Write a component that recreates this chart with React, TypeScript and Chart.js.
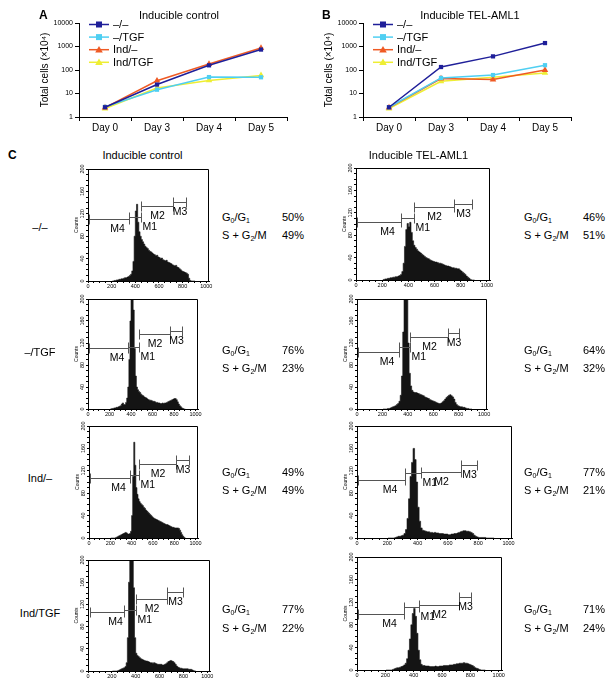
import React, { useEffect, useRef } from 'react';
import { Chart, registerables } from 'chart.js';
Chart.register(...registerables);

const FONT = '"Liberation Sans", Arial, Helvetica, sans-serif';

// ---------- Panels A / B : growth curves ----------
const days = ['Day 0', 'Day 3', 'Day 4', 'Day 5'];
const seriesNames = ['–/–', '–/TGF', 'Ind/–', 'Ind/TGF'];
const seriesColors = ['#1f1f99', '#4fcff2', '#ef5a24', '#eeee33'];
const seriesMarkers = ['rect', 'rect', 'triangle', 'triangle'];
const logTicks = [1, 10, 100, 1000, 10000];

const ctrlWT = [2.6, 24, 158, 740];
const ctrlTGF = [2.7, 14.5, 50, 49];
const ctrlInd = [2.5, 35, 180, 860];
const ctrlIndTGF = [2.3, 17, 36, 59];

const telWT = [2.6, 134, 380, 1400];
const telTGF = [2.6, 46, 61, 160];
const telInd = [2.5, 43, 39, 100];
const telIndTGF = [2.3, 33, 49, 75];

// ---------- Panel C : DNA histograms (10-channel bins from 200 to 900) ----------
const BIN_START = 200;
const BIN_WIDTH = 10;

const hCtrlWT = [
  0, 0, 1, 1, 2, 2, 3, 3, 4, 4,
  5, 6, 6, 7, 8, 10, 12, 18, 35, 80,
  125, 137, 105, 88, 80, 74, 70, 66, 62, 60,
  58, 55, 53, 52, 50, 48, 47, 45, 46, 43,
  42, 40, 41, 38, 37, 36, 37, 34, 33, 32,
  31, 29, 28, 27, 28, 25, 24, 22, 20, 18,
  17, 16, 15, 14, 12, 5, 1, 0, 0, 0,
  0,
];
const hTelWT = [
  1, 1, 2, 2, 3, 3, 4, 4, 5, 5,
  6, 6, 7, 8, 10, 15, 30, 60, 90, 101,
  95, 103, 85, 70, 62, 58, 55, 52, 50, 48,
  46, 44, 42, 40, 39, 38, 36, 35, 34, 33,
  32, 32, 31, 30, 30, 29, 28, 27, 26, 25,
  25, 24, 23, 22, 22, 21, 21, 20, 20, 18,
  16, 14, 12, 10, 7, 5, 3, 1, 0, 0,
  0,
];
const hCtrlTGF = [
  0, 0, 1, 1, 2, 2, 3, 3, 4, 5,
  6, 9, 11, 8, 8, 12, 20, 40, 90, 160,
  230, 240, 180, 110, 60, 40, 35, 32, 30, 27,
  25, 24, 22, 21, 20, 18, 17, 16, 16, 15,
  14, 14, 13, 12, 12, 11, 11, 10, 10, 11,
  10, 11, 11, 12, 13, 14, 15, 16, 17, 18,
  19, 19, 17, 13, 9, 6, 4, 2, 1, 0,
  0,
];
const hTelTGF = [
  0, 0, 0, 0, 1, 1, 2, 3, 4, 5,
  6, 8, 10, 14, 25, 60, 140, 220, 240, 200,
  120, 65, 42, 34, 31, 30, 30, 29, 28, 27,
  26, 25, 24, 22, 21, 20, 19, 17, 16, 15,
  14, 13, 12, 11, 10, 10, 11, 13, 15, 18,
  21, 23, 25, 26, 24, 22, 18, 12, 8, 6,
  5, 4, 4, 3, 3, 2, 1, 1, 0, 0,
  0,
];
const hCtrlInd = [
  0, 0, 0, 0, 0, 1, 2, 3, 4, 5,
  6, 7, 8, 9, 10, 9, 7, 7, 8, 12,
  40, 110, 171, 130, 90, 78, 70, 65, 62, 60,
  58, 55, 53, 50, 48, 46, 44, 42, 40, 38,
  36, 35, 34, 33, 32, 31, 30, 29, 28, 27,
  26, 25, 24, 24, 23, 22, 21, 20, 19, 19,
  18, 18, 18, 18, 17, 14, 10, 6, 3, 1,
  0,
];
const hTelInd = [
  0, 0, 0, 0, 0, 1, 2, 3, 3, 4,
  5, 8, 15, 35, 70, 110, 135, 160, 140, 100,
  55, 30, 18, 14, 13, 12, 11, 11, 10, 10,
  9, 10, 9, 9, 8, 8, 8, 7, 7, 7,
  6, 6, 7, 7, 8, 8, 9, 10, 11, 12,
  13, 13, 12, 12, 11, 10, 8, 5, 3, 2,
  1, 1, 1, 1, 1, 0, 0, 0, 0, 0,
  0,
];
const hCtrlIndTGF = [
  0, 0, 0, 0, 0, 1, 2, 3, 4, 5,
  6, 8, 15, 60, 160, 240, 250, 230, 150, 60,
  32, 28, 26, 24, 22, 21, 20, 19, 18, 18,
  17, 16, 15, 15, 14, 15, 14, 13, 12, 12,
  12, 12, 11, 11, 12, 13, 15, 17, 18, 19,
  18, 17, 15, 12, 9, 7, 6, 5, 5, 4,
  4, 4, 4, 4, 3, 3, 3, 2, 1, 0,
  0,
];
const hTelIndTGF = [
  0, 0, 0, 0, 0, 1, 2, 3, 4, 4,
  5, 6, 7, 9, 12, 20, 35, 55, 80, 100,
  109, 95, 65, 35, 18, 10, 8, 8, 7, 7,
  7, 6, 6, 6, 6, 7, 6, 6, 7, 7,
  7, 8, 8, 8, 8, 9, 9, 9, 10, 10,
  11, 11, 12, 12, 12, 13, 12, 12, 11, 10,
  9, 8, 6, 4, 3, 2, 1, 0, 0, 0,
  0,
];

// gates: [from, to, level]  in order M4, M1, M2, M3
const gateNames = ['M4', 'M1', 'M2', 'M3'];
const gCtrlWT = [[8, 346, 110], [346, 444, 114], [444, 722, 134], [722, 831, 141]];
const gTelWT = [[5, 345, 104], [345, 442, 110], [442, 745, 131], [745, 883, 136]];
const gCtrlTGF = [[9, 369, 110], [369, 471, 113], [471, 763, 137], [763, 877, 142]];
const gTelTGF = [[5, 334, 104], [334, 416, 113], [416, 716, 131], [716, 803, 139]];
const gCtrlInd = [[6, 385, 108], [385, 472, 112], [472, 814, 133], [814, 938, 140]];
const gTelInd = [[7, 320, 103], [320, 420, 116], [420, 685, 118], [685, 789, 131]];
const gCtrlIndTGF = [[19, 302, 107], [302, 403, 110], [403, 662, 130], [662, 798, 142]];
const gTelIndTGF = [[9, 335, 100], [335, 436, 111], [436, 719, 115], [719, 803, 130]];

const rowLabels = ['–/–', '–/TGF', 'Ind/–', 'Ind/TGF'];
const ctrlG0G1 = [50, 76, 49, 77];
const ctrlSG2M = [49, 23, 49, 22];
const telG0G1 = [46, 64, 77, 71];
const telSG2M = [51, 32, 21, 24];

const histXTicks = [0, 50, 100, 150, 200, 250, 300, 350, 400, 450, 500, 550, 600, 650, 700, 750, 800, 850, 900, 950, 1000];
const histYTicks = [0, 10, 20, 30, 40, 50, 60, 70, 80, 90, 100, 110, 120, 130, 140, 150, 160, 170, 180, 190, 200];

// ---------- plugins ----------
const lineLegendPlugin = {
  id: 'lineLegend',
  afterDraw(chart: any) {
    const { ctx, chartArea } = chart;
    ctx.save();
    chart.data.datasets.forEach((ds: any, i: number) => {
      const y = chartArea.top + 1.5 + i * 12.6;
      const x0 = chartArea.left + 10;
      const x1 = chartArea.left + 30;
      const cx = (x0 + x1) / 2;
      ctx.strokeStyle = ds.borderColor;
      ctx.lineWidth = 1.5;
      ctx.beginPath();
      ctx.moveTo(x0, y);
      ctx.lineTo(x1, y);
      ctx.stroke();
      ctx.fillStyle = ds.backgroundColor;
      if (ds.pointStyle === 'triangle') {
        ctx.beginPath();
        ctx.moveTo(cx, y - 3.8);
        ctx.lineTo(cx + 3.8, y + 2.8);
        ctx.lineTo(cx - 3.8, y + 2.8);
        ctx.closePath();
        ctx.fill();
      } else {
        ctx.fillRect(cx - 3, y - 3, 6, 6);
      }
      ctx.fillStyle = '#000';
      ctx.font = `11px ${FONT}`;
      ctx.textBaseline = 'middle';
      ctx.textAlign = 'left';
      ctx.fillText(ds.label, chartArea.left + 34, y + 0.5);
    });
    ctx.restore();
  },
};

const boxPlugin = {
  id: 'boxFrame',
  afterDraw(chart: any) {
    const { ctx, chartArea } = chart;
    ctx.save();
    ctx.strokeStyle = '#000';
    ctx.lineWidth = 1;
    const t = Math.round(chartArea.top) + 0.5;
    const r = Math.round(chartArea.right) - 0.5;
    ctx.beginPath();
    ctx.moveTo(chartArea.left, t);
    ctx.lineTo(r, t);
    ctx.lineTo(r, chartArea.bottom);
    ctx.stroke();
    ctx.restore();
  },
};

const gatePlugin = {
  id: 'gates',
  afterDatasetsDraw(chart: any, _args: any, opts: any) {
    const { ctx } = chart;
    const xs = chart.scales.x;
    const ys = chart.scales.y;
    ctx.save();
    ctx.lineWidth = 1;
    ctx.strokeStyle = '#555';
    ctx.fillStyle = '#000';
    ctx.font = `10.5px ${FONT}`;
    ctx.textBaseline = 'middle';
    (opts.gates || []).forEach((g: number[], i: number) => {
      const x1 = Math.round(xs.getPixelForValue(g[0])) + 0.5;
      const x2 = Math.round(xs.getPixelForValue(g[1])) + 0.5;
      const yy = Math.round(ys.getPixelForValue(g[2])) + 0.5;
      ctx.beginPath();
      ctx.moveTo(x1, yy);
      ctx.lineTo(x2, yy);
      ctx.moveTo(x1, yy - 5);
      ctx.lineTo(x1, yy + 5);
      ctx.moveTo(x2, yy - 5);
      ctx.lineTo(x2, yy + 5);
      ctx.stroke();
      const name = gateNames[i];
      if (name === 'M1') {
        ctx.textAlign = 'left';
        ctx.fillText(name, x2 + 1, yy + 10);
      } else {
        ctx.textAlign = 'center';
        ctx.fillText(name, (x1 + x2) / 2 + (name === 'M4' ? 8 : 0), yy + 10);
      }
    });
    ctx.restore();
  },
};

// ---------- components ----------
function GrowthChart(props: { left: number; top: number; series: number[][] }) {
  const ref = useRef<HTMLCanvasElement>(null);
  const W = 300;
  const H = 140;
  useEffect(() => {
    const chart = new Chart(ref.current as HTMLCanvasElement, {
      type: 'line',
      data: {
        labels: days,
        datasets: props.series.map((vals, i) => ({
          label: seriesNames[i],
          data: vals,
          borderColor: seriesColors[i],
          backgroundColor: seriesColors[i],
          pointStyle: seriesMarkers[i] as any,
          pointRadius: seriesMarkers[i] === 'triangle' ? 3.8 : 3,
          pointBorderWidth: 0,
          borderWidth: 1.5,
          tension: 0,
        })),
      },
      options: {
        animation: false,
        responsive: false,
        events: [],
        layout: { padding: { top: 23, right: 13, left: 0, bottom: 0 } },
        plugins: { legend: { display: false }, tooltip: { enabled: false } },
        scales: {
          x: {
            type: 'category',
            offset: true,
            grid: { offset: true, drawOnChartArea: false, tickLength: 4, color: '#000' },
            border: { color: '#000', width: 1 },
            ticks: { font: { size: 10, family: FONT }, color: '#000', padding: 1, maxRotation: 0 },
            afterFit: (s: any) => { s.height = 23; },
          },
          y: {
            type: 'logarithmic',
            min: 1,
            max: 10000,
            afterBuildTicks: (s: any) => { s.ticks = logTicks.map((v) => ({ value: v })); },
            ticks: { font: { size: 7, family: FONT }, color: '#000', padding: 2, callback: (v: any) => String(v) },
            grid: { drawOnChartArea: false, tickLength: 4, color: '#000' },
            border: { color: '#000', width: 1 },
            title: {
              display: true,
              text: 'Total cells (×10⁴)',
              font: { size: 10, family: FONT },
              color: '#000',
              padding: { top: 39, bottom: 0 },
            },
            afterFit: (s: any) => { s.width = 79; },
          },
        },
      } as any,
      plugins: [lineLegendPlugin],
    });
    return () => chart.destroy();
  }, []);
  return (
    <canvas ref={ref} width={W} height={H}
      style={{ position: 'absolute', left: props.left, top: props.top, width: W, height: H }} />
  );
}

const AXW = 14;
const AXH = 12;
const PT = 8;
const PR = 10;

function Histogram(props: { area: number[]; counts: number[]; gates: number[][] }) {
  const ref = useRef<HTMLCanvasElement>(null);
  const [l, t, r, b] = props.area;
  const W = r - l + AXW + PR;
  const H = b - t + PT + AXH;
  useEffect(() => {
    const pts = props.counts.map((c, i) => ({ x: BIN_START + i * BIN_WIDTH + BIN_WIDTH / 2, y: c }));
    const chart = new Chart(ref.current as HTMLCanvasElement, {
      type: 'line',
      data: {
        datasets: [{
          data: pts,
          borderColor: '#141414',
          backgroundColor: '#141414',
          fill: 'origin',
          stepped: 'middle',
          pointRadius: 0,
          borderWidth: 0.6,
          clip: 0,
        }],
      },
      options: {
        animation: false,
        responsive: false,
        events: [],
        layout: { padding: { top: PT, right: PR, left: 0, bottom: 0 } },
        plugins: { legend: { display: false }, tooltip: { enabled: false }, gates: { gates: props.gates } },
        scales: {
          x: {
            type: 'linear',
            min: 0,
            max: 1023,
            afterBuildTicks: (s: any) => { s.ticks = histXTicks.map((v) => ({ value: v })); },
            ticks: {
              font: { size: 5.5, family: FONT }, color: '#000', padding: 0, maxRotation: 0, autoSkip: false,
              callback: (v: any) => (v % 200 === 0 ? String(v) : ''),
            },
            grid: { drawOnChartArea: false, tickLength: 2, color: '#000' },
            border: { color: '#000', width: 1 },
            afterFit: (s: any) => { s.height = AXH; },
          },
          y: {
            min: 0,
            max: 200,
            afterBuildTicks: (s: any) => { s.ticks = histYTicks.map((v) => ({ value: v })); },
            ticks: {
              font: { size: 5.5, family: FONT }, color: '#000', padding: -1, autoSkip: false,
              minRotation: 90, maxRotation: 90, crossAlign: 'center',
              callback: (v: any) => (v % 40 === 0 ? String(v) : ''),
            },
            grid: { drawOnChartArea: false, tickLength: 2, color: '#000' },
            border: { color: '#000', width: 1 },
            title: { display: true, text: 'Counts', font: { size: 5, family: FONT }, color: '#000', padding: 0 },
            afterFit: (s: any) => { s.width = AXW; },
          },
        },
      } as any,
      plugins: [boxPlugin, gatePlugin],
    });
    return () => chart.destroy();
  }, []);
  return (
    <canvas ref={ref} width={W} height={H}
      style={{ position: 'absolute', left: l - AXW, top: t - PT, width: W, height: H }} />
  );
}

function Txt(props: { x: number; y: number; size?: number; align?: 'left' | 'center'; bold?: boolean; children: any }) {
  const size = props.size ?? 11;
  return (
    <div style={{
      position: 'absolute', left: props.x, top: props.y - size / 2, fontSize: size, lineHeight: `${size}px`,
      fontWeight: props.bold ? 'bold' : 'normal', whiteSpace: 'nowrap', color: '#000',
      transform: props.align === 'center' ? 'translateX(-50%)' : undefined,
    }}>{props.children}</div>
  );
}

const Sub = (p: { children: any }) => (
  <span style={{ fontSize: 7, position: 'relative', top: 2 }}>{p.children}</span>
);

const leftAreas = [[88, 169, 209, 281], [88, 299, 198, 409], [89, 426, 198, 538], [88, 560, 210, 671]];
const rightAreas = [[356, 168, 490, 280], [357, 299, 487, 409], [357, 426, 512, 538], [357, 557, 502, 670]];
const leftCounts = [hCtrlWT, hCtrlTGF, hCtrlInd, hCtrlIndTGF];
const rightCounts = [hTelWT, hTelTGF, hTelInd, hTelIndTGF];
const leftGates = [gCtrlWT, gCtrlTGF, gCtrlInd, gCtrlIndTGF];
const rightGates = [gTelWT, gTelTGF, gTelInd, gTelIndTGF];
const rowY = [227, 352, 478, 613];
const g0Y = [217, 350, 472, 609];
const sY = [235, 368, 490, 628];

export default function App() {
  return (
    <div style={{ position: 'absolute', left: 0, top: 0, width: 612, height: 689, background: '#fff', fontFamily: FONT, overflow: 'hidden' }}>
      <GrowthChart left={0} top={0} series={[ctrlWT, ctrlTGF, ctrlInd, ctrlIndTGF]} />
      <GrowthChart left={284} top={0} series={[telWT, telTGF, telInd, telIndTGF]} />
      {leftAreas.map((a, i) => <Histogram key={'l' + i} area={a} counts={leftCounts[i]} gates={leftGates[i]} />)}
      {rightAreas.map((a, i) => <Histogram key={'r' + i} area={a} counts={rightCounts[i]} gates={rightGates[i]} />)}

      <Txt x={39} y={14.5} size={12} bold>A</Txt>
      <Txt x={322} y={14.5} size={12} bold>B</Txt>
      <Txt x={179} y={15} align="center">Inducible control</Txt>
      <Txt x={470} y={15} align="center">Inducible TEL-AML1</Txt>

      <Txt x={8} y={155} size={12} bold>C</Txt>
      <Txt x={142.5} y={155} align="center">Inducible control</Txt>
      <Txt x={418.5} y={155} align="center">Inducible TEL-AML1</Txt>

      {rowLabels.map((lab, i) => <Txt key={'rl' + i} x={40} y={rowY[i]} align="center">{lab}</Txt>)}
      {ctrlG0G1.map((v, i) => (
        <React.Fragment key={'cs' + i}>
          <Txt x={222} y={g0Y[i]}>G<Sub>0</Sub>/G<Sub>1</Sub></Txt>
          <Txt x={282} y={g0Y[i]}>{v}%</Txt>
          <Txt x={222} y={sY[i]}>S + G<Sub>2</Sub>/M</Txt>
          <Txt x={282} y={sY[i]}>{ctrlSG2M[i]}%</Txt>
        </React.Fragment>
      ))}
      {telG0G1.map((v, i) => (
        <React.Fragment key={'ts' + i}>
          <Txt x={524} y={g0Y[i]}>G<Sub>0</Sub>/G<Sub>1</Sub></Txt>
          <Txt x={583} y={g0Y[i]}>{v}%</Txt>
          <Txt x={524} y={sY[i]}>S + G<Sub>2</Sub>/M</Txt>
          <Txt x={583} y={sY[i]}>{telSG2M[i]}%</Txt>
        </React.Fragment>
      ))}
    </div>
  );
}
